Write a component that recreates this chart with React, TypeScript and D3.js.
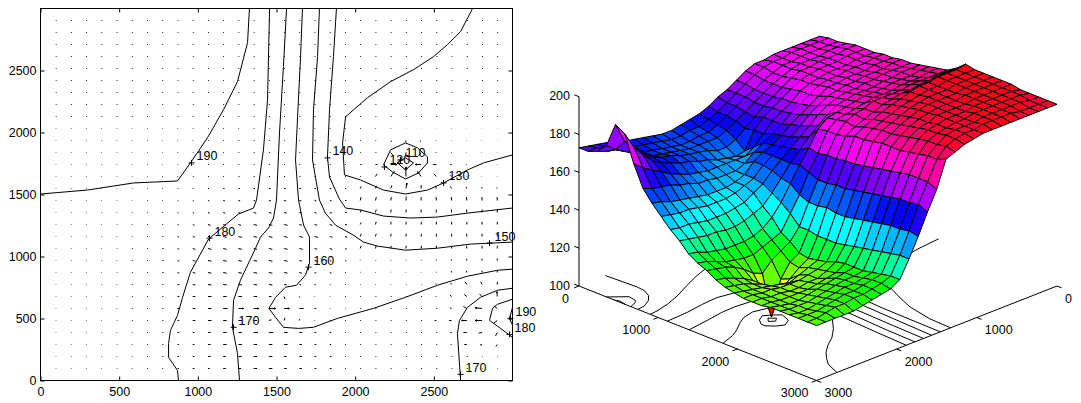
import { useEffect, useRef } from "react";
import * as d3 from "d3";

// surface mesh: 27 nodes a side
const meshCount = 27;
const meshStep = 3000 / 26;
// quiver grid: interior nodes of a 3000/31 grid
const quiverStep = 3000 / 31;

// surface heights, one row per y node (y = 0 first), one value per x node
const zRows = [
  [182,182,182,182,182,182,181,181,179,176,173,171,168,166,165,164,163,163,164,165,166,167,168,170,171,172,173],
  [183,183,183,183,183,182,182,181,179,176,173,170,167,165,163,163,162,162,163,164,165,166,167,169,171,173,173],
  [183,183,183,183,183,182,182,180,178,175,173,170,167,164,162,162,161,161,162,163,164,165,167,170,172,173,175],
  [184,184,184,183,183,183,182,180,178,175,172,169,166,163,161,161,161,161,162,163,164,165,168,170,173,176,180],
  [185,185,184,184,184,183,183,181,178,175,172,168,164,160,158,158,160,161,162,163,165,166,168,170,175,182,193],
  [185,185,185,184,184,184,183,182,179,176,173,170,165,156,155,156,157,159,160,162,163,165,167,170,175,181,190],
  [185,185,185,184,184,184,183,182,180,176,173,170,165,160,157,157,157,157,157,158,159,161,163,166,169,172,176],
  [186,186,185,185,185,184,184,183,180,177,174,170,167,164,161,157,155,155,155,156,156,158,159,161,162,163,165],
  [186,186,186,185,185,185,184,184,181,178,175,172,168,165,163,160,155,153,152,152,152,153,154,155,156,158,159],
  [187,187,186,186,186,185,185,184,183,180,177,173,169,166,163,160,155,153,151,150,150,150,151,152,152,153,154],
  [187,187,187,187,186,186,185,185,184,182,179,175,171,167,163,159,154,151,148,147,146,146,146,147,148,148,149],
  [188,188,188,187,187,186,186,186,185,184,181,177,173,168,163,157,151,146,144,142,141,141,142,142,143,144,145],
  [189,189,188,188,188,187,187,187,186,185,184,183,179,171,164,156,148,142,138,136,135,135,135,136,137,139,140],
  [190,190,189,189,189,188,188,188,187,186,185,184,180,170,162,152,144,136,134,132,130,130,131,132,134,136,137],
  [191,191,191,191,191,190,190,190,190,188,187,185,180,171,160,150,139,133,130,127,122,124,128,131,133,134,135],
  [194,194,194,193,193,192,192,191,190,188,186,184,181,171,160,150,139,129,126,119,101,117,124,127,129,131,132],
  [198,197,197,197,196,196,195,193,192,190,188,186,183,172,161,151,138,128,125,121,117,120,124,126,128,129,130],
  [197,197,197,197,196,196,195,194,193,191,189,187,183,172,161,150,138,129,127,125,123,124,125,126,127,128,129],
  [197,197,197,197,196,196,196,195,194,192,190,188,184,173,162,150,138,130,128,127,126,126,126,127,127,128,128],
  [197,197,197,197,196,196,196,196,195,193,191,188,185,174,163,151,139,132,129,127,127,126,126,127,127,128,128],
  [197,197,197,197,197,196,196,196,195,194,192,189,185,175,164,152,140,133,130,129,128,127,127,127,127,128,128],
  [197,197,197,197,197,196,196,196,196,194,193,190,185,176,165,153,141,133,132,131,130,129,128,127,127,128,129],
  [196,197,197,197,197,197,196,196,196,195,194,191,186,177,166,154,142,133,132,132,131,130,129,128,128,128,129],
  [196,197,197,197,197,197,197,196,196,195,194,192,187,178,167,155,143,134,133,132,132,131,130,129,128,128,129],
  [196,196,197,197,197,197,197,196,196,196,195,192,188,178,167,155,144,135,134,133,132,132,131,130,129,129,129],
  [196,196,196,196,197,197,197,197,196,196,195,193,188,178,168,156,145,136,134,133,132,132,131,131,130,129,129],
  [196,196,196,196,196,196,196,196,196,195,194,192,190,176,166,155,145,136,133,132,131,130,129,129,129,129,129],
];

// quiver components in tens of data units, rows from y node 1 upward, columns from x node 1
const quiverU = [
  [.3,.3,.3,.3,.4,.4,.5,.5,.8,1,1,1.5,1.5,2,2,1.5,1.5,1,1,.5,.5,.5,.5,.5,.5,.5,.5,.5,.3,.3],
  [.3,.3,.3,.3,.4,.4,.5,.6,.8,1,1.5,1.5,2,2,2,1.5,1.5,1,1,.5,.5,.5,.5,.5,.5,.5,.5,.5,.3,.3],
  [.3,.3,.3,.3,.4,.4,.5,.6,.8,1,1.5,2,2,2,2,2,1.5,1,.8,.5,.5,.5,.5,.5,.5,.5,-.5,-1.5,-1.2,-.8],
  [.3,.3,.3,.3,.4,.4,.5,.6,1,1,1.5,2,2,2.5,2.5,2,1.5,1,.8,.5,.5,.5,.5,.5,.5,.5,-.8,-2,-2,-1],
  [.3,.3,.3,.3,.4,.5,.5,.6,1,1.5,2,2,2,2,1.5,.5,.2,.3,.5,.5,.5,.5,.5,.5,.5,-1,-1.5,-3,-4,-2],
  [.3,.3,.3,.3,.4,.5,.5,.6,1,1.5,2,2.5,3,3,4,3,2.5,1,.4,.3,.5,.5,.5,.5,.5,.5,-1,-2,-4,-2],
  [.3,.3,.3,.3,.4,.5,.5,.6,1,1.5,2,2,2,2,1.5,.5,.2,.3,.3,.5,.5,.5,.5,.5,.5,-.5,-1,-1.5,-1.5,-.2],
  [.3,.3,.3,.3,.4,.5,.5,.6,1,1.5,2,2,2,2,2,1.5,1,.8,.5,.5,.3,.3,.3,.3,.3,-.3,-.5,-1,-.8,0],
  [.3,.3,.3,.3,.4,.5,.5,.7,1,1.5,2,2,2,2,2,2,1.5,1,1,.5,.3,.3,.3,.2,.2,0,-.2,-.2,0,0],
  [.3,.3,.3,.3,.4,.5,.5,.7,1,1.5,2,2,2,2,2,2,1.5,1.5,1,.8,.3,.3,.3,.2,.2,0,-.2,-.2,0,0],
  [.3,.3,.3,.3,.4,.5,.5,.7,1,1.5,2,2,2,2,2,2,2,1.5,1.5,1,.5,.4,.3,.2,.2,0,-.1,-.1,0,0],
  [.3,.3,.3,.3,.4,.4,.5,.6,.8,1.2,1.5,2,2,2,2,2,2,2,1.5,1.2,.6,.4,.3,.2,.1,0,0,-.1,0,0],
  [.3,.3,.3,.3,.4,.4,.5,.5,.8,1,1.5,1.5,1.5,2,2,2,1.5,1.5,1.5,1.2,.6,.4,.3,.2,.1,0,0,0,0,0],
  [.3,.3,.3,.3,.3,.4,.4,.5,.6,.8,1,1.2,1.2,1.5,1.5,1.5,1.5,1.2,1.2,1,.6,.4,.3,.2,0,-.1,-.1,-.1,0,0],
  [.3,.3,.3,.3,.3,.3,.4,.4,.5,.6,.8,1,1,1,1.2,1.2,1.2,1,1,.8,.5,.5,.4,.2,0,-.2,-.2,-.2,-.1,-.1],
  [.3,.3,.3,.3,.3,.3,.3,.4,.5,.5,.6,.8,.8,.8,1,1,1,.8,.8,.6,.5,.6,.7,.6,0,-.6,-.7,-.5,-.3,-.2],
  [.3,.3,.3,.3,.3,.3,.3,.4,.4,.5,.5,.5,.6,.6,.6,.6,.6,.5,.5,.5,.5,1,2,0,-2,-1.5,-.6,-.3,-.2,-.2],
  [.3,.3,.3,.3,.3,.3,.3,.3,.4,.4,.5,.5,.5,.5,.5,.5,.5,.5,.5,.5,.8,1.2,3.5,0,-3.5,-2,-.8,-.4,-.2,-.2],
  [.3,.3,.3,.3,.3,.3,.3,.3,.4,.4,.4,.5,.5,.5,.5,.5,.5,.5,.5,.5,.4,.5,1.5,0,-1.5,-.5,-.3,-.2,-.2,-.2],
  [.3,.3,.3,.3,.3,.3,.3,.3,.3,.4,.4,.4,.5,.5,.5,.4,.4,.4,.4,.4,.4,.4,.8,0,-.8,-.3,-.2,-.2,-.2,-.1],
  [.3,.3,.3,.3,.3,.3,.3,.3,.3,.4,.4,.4,.4,.4,.4,.4,.4,.4,.4,.4,.4,.3,.3,.1,-.1,-.1,-.2,-.1,-.1,-.1],
];
const quiverV = [
  [0,0,0,0,0,0,0,0,0,0,0,0,0,0,0,0,0,0,0,0,0,0,0,0,0,0,0,0,0,0],
  [0,0,0,0,0,0,0,0,0,0,0,0,0,0,0,0,0,0,0,0,0,0,0,0,0,0,0,0,0,0],
  [0,0,0,0,0,0,0,0,0,0,0,0,0,0,0,0,0,0,0,0,0,0,0,0,0,0,0,0,-.5,-1.5],
  [0,0,0,0,0,0,0,0,0,0,0,0,0,0,0,0,0,0,0,0,0,0,0,0,0,0,0,0,-.5,-2.5],
  [0,0,0,0,0,0,0,0,0,0,0,0,0,0,.5,2,1,0,0,0,0,0,0,0,0,0,0,0,0,-2],
  [0,0,0,0,0,0,0,0,0,0,0,0,0,0,0,0,0,0,0,0,0,0,0,0,0,0,.5,1.5,.5,2],
  [0,0,0,0,0,0,0,0,0,0,0,0,0,0,0,-2,-.8,0,0,0,0,0,0,0,0,0,1,1.5,2,3.5],
  [0,0,0,0,0,0,0,0,-.3,-.3,-.3,-.3,-.3,-.3,-.3,-.3,-.3,-.3,-.3,0,0,0,0,0,0,.8,1,2,2,2],
  [0,0,0,0,0,0,0,0,-.5,-.5,-.5,-.5,-.5,-.5,-.5,-.5,-.5,-.5,-.5,0,.3,.3,.3,.3,.3,.5,1,1.2,1.5,1.5],
  [0,0,0,0,0,0,0,0,-.5,-.5,-.5,-.5,-.5,-.5,-.5,-.5,-.5,-.5,-.5,-.5,.5,.5,.5,.5,.5,.7,1,1.2,1.5,1.5],
  [0,0,0,0,0,0,0,0,-.6,-.6,-.6,-.6,-.6,-.6,-.6,-.6,-.6,-.6,-.6,-.6,2,2,2,2,2,2,2,2,2,2],
  [0,0,0,0,0,0,0,0,-.6,-.6,-.6,-.6,-.6,-.6,-.6,-.6,-.6,-.6,-.6,-.6,2,2,2,2,2,2,2,2,2,2],
  [0,0,0,0,0,0,0,0,-.6,-.6,-.6,-.6,-.6,-.6,-.6,-.6,-.6,-.6,-.6,-.3,1.5,2,2,2,2,2,2,2,2,2],
  [0,0,0,0,0,0,0,0,-.5,-.5,-.5,-.5,-.5,-.5,-.5,-.5,-.5,-.5,-.5,0,2.2,2.2,2.2,2.2,2.2,2.2,2.2,2.2,2.2,2.2],
  [0,0,0,0,0,0,0,0,-.3,-.3,-.3,-.3,-.3,-.3,-.3,-.3,-.3,-.3,-.3,0,2.5,2.5,2.5,3,2.5,2.5,2.5,2.5,2.5,2.5],
  [0,0,0,0,0,0,0,0,0,0,0,0,0,0,0,0,0,0,0,0,1.5,2,2.2,4,2.5,2,1.5,1.2,1,.8],
  [0,0,0,0,0,0,0,0,0,0,0,0,0,0,0,0,0,0,0,0,0,2,3.5,7,3.5,2,1,.5,0,0],
  [0,0,0,0,0,0,0,0,0,0,0,0,0,0,0,0,0,0,0,0,0,0,0,0,0,0,0,0,0,0],
  [0,0,0,0,0,0,0,0,0,0,0,0,0,0,0,0,0,0,0,0,0,0,-2.5,-3,-2.5,0,0,0,0,0],
  [0,0,0,0,0,0,0,0,0,0,0,0,0,0,0,0,0,0,0,0,0,0,-1,-1.5,-1,0,0,0,0,0],
  [0,0,0,0,0,0,0,0,0,0,0,0,0,0,0,0,0,0,0,0,0,0,0,0,0,0,0,0,0,0],
];
const quiverDotU = 0.5;

// contour lines as [x, y] data pairs
const contour190: number[][] = [[0,1504],[299,1536],[591,1593],[871,1609],[953,1755],[1061,1957],[1163,2183],[1252,2410],[1316,2725],[1328,3000]];
const contour180: number[][] = [[877,0],[871,81],[814,186],[814,299],[826,404],[871,526],[903,671],[953,873],[1068,1140],[1189,1270],[1258,1342],[1354,1391],[1373,1455],[1417,1860],[1443,2264],[1456,3000]];
const contour170: number[][] = [[1265,0],[1252,218],[1220,429],[1227,647],[1271,809],[1367,1067],[1398,1156],[1449,1229],[1481,1310],[1500,1455],[1519,1997],[1544,2531],[1564,3000]];
const contour160: number[][] = [[1665,3000],[1653,2612],[1634,2127],[1621,1779],[1640,1455],[1672,1253],[1710,1156],[1710,946],[1684,849],[1627,768],[1557,752],[1494,671],[1452,582],[1494,509],[1544,429],[1640,420],[1735,429],[1888,501],[2117,582],[2320,671],[2523,768],[2714,841],[2905,889],[3000,898]];
const contour150: number[][] = [[1773,3000],[1761,2612],[1735,2183],[1729,1779],[1773,1455],[1811,1350],[1875,1253],[1989,1172],[2053,1116],[2142,1084],[2320,1051],[2523,1067],[2733,1100],[3000,1116]];
const contour140: number[][] = [[1881,3000],[1862,2612],[1837,2183],[1824,1803],[1837,1641],[1900,1463],[1939,1391],[2034,1375],[2180,1326],[2352,1310],[2523,1318],[2714,1350],[3000,1391]];
const contour130: number[][] = [[2746,3000],[2670,2814],[2587,2709],[2498,2612],[2371,2507],[2225,2410],[2078,2280],[1939,2127],[1920,1916],[1932,1658],[2034,1617],[2180,1536],[2320,1504],[2460,1536],[2562,1593],[2714,1698],[2816,1755],[3000,1819]];
const contour120: number[][] = [[2320,1916],[2396,1876],[2460,1803],[2460,1755],[2403,1674],[2320,1625],[2237,1682],[2180,1738],[2225,1860],[2320,1916]];
const contour110: number[][] = [[2320,1795],[2371,1755],[2320,1698],[2269,1755],[2320,1795]];
const contour170East: number[][] = [[2670,0],[2650,380],[2663,485],[2714,590],[2797,671],[2905,728],[3000,744]];
const contour180East: number[][] = [[3000,348],[2924,420],[2854,485],[2873,582],[2905,615],[3000,655]];
const contour190East: number[][] = [[3000,590],[2981,501],[3000,445]];
const contours = [contour190, contour180, contour170, contour160, contour150, contour140, contour130, contour120, contour110, contour170East, contour180East, contour190East];

// clabel markers
const labelValues = ["190","180","170","160","150","140","130","120","110","170","190","180"];
const labelXs = [960,1074,1227,1703,2854,1824,2562,2186,2288,2670,2987,2981];
const labelYs = [1755,1148,429,914,1108,1795,1593,1722,1779,49,501,372];

const planTicks = [0,500,1000,1500,2000,2500];
const floorTicks = [0,1000,2000,3000];
const heightTicks = [100,120,140,160,180,200];

const font = "'Liberation Sans', Arial, sans-serif";
const fontSize = 12.5;

export default function App() {
  const svgRef = useRef<SVGSVGElement>(null);

  useEffect(() => {
    const svg = d3.select(svgRef.current);
    svg.selectAll("*").remove();

    // ---- left panel: contour + quiver
    const x = d3.scaleLinear().domain([0, 3000]).range([40.5, 512.5]);
    const y = d3.scaleLinear().domain([0, 3000]).range([380.5, 8.5]);
    const left = svg.append("g");

    left.append("rect").attr("x", 40.5).attr("y", 8.5).attr("width", 472).attr("height", 372)
      .attr("fill", "none").attr("stroke", "#000");

    const blank = () => "";
    const plain = d3.format("d");
    const bottom = left.append("g").attr("transform", "translate(0,380.5)")
      .call(d3.axisBottom(x).tickValues(planTicks).tickSizeInner(-4).tickSizeOuter(0).tickPadding(6.6).tickFormat(plain));
    const leftAxis = left.append("g").attr("transform", "translate(40.5,0)")
      .call(d3.axisLeft(y).tickValues(planTicks).tickSizeInner(-4).tickSizeOuter(0).tickPadding(4).tickFormat(plain));
    left.append("g").attr("transform", "translate(0,8.5)")
      .call(d3.axisTop(x).tickValues(planTicks).tickSizeInner(-4).tickSizeOuter(0).tickFormat(blank));
    left.append("g").attr("transform", "translate(512.5,0)")
      .call(d3.axisRight(y).tickValues(planTicks).tickSizeInner(-4).tickSizeOuter(0).tickFormat(blank));
    for (const a of [bottom, leftAxis]) {
      a.selectAll("text").attr("font-family", font).attr("font-size", fontSize).attr("fill", "#000");
    }
    left.selectAll(".domain").remove();

    const planLine = d3.line<number[]>().x((d) => x(d[0])).y((d) => y(d[1]));

    // quiver arrows
    const arrows: string[] = [];
    for (let k = 1; k <= 30; k++) {
      for (let j = 1; j <= 30; j++) {
        const u = quiverU[k - 1] ? quiverU[k - 1][j - 1] : quiverDotU;
        const v = quiverV[k - 1] ? quiverV[k - 1][j - 1] : 0;
        const x0 = x(j * quiverStep);
        const y0 = y(k * quiverStep);
        const x1 = x(j * quiverStep + u * 11);
        const y1 = y(k * quiverStep + v * 11);
        const len = Math.hypot(x1 - x0, y1 - y0);
        let p = `M${x0},${y0}L${x1},${y1}`;
        if (len > 4.5) {
          const ang = Math.atan2(y1 - y0, x1 - x0);
          const hl = len * 0.3;
          for (const s of [-0.4, 0.4]) {
            p += `M${x1},${y1}L${x1 - hl * Math.cos(ang + s)},${y1 - hl * Math.sin(ang + s)}`;
          }
        }
        arrows.push(p);
      }
    }
    left.append("path").attr("d", arrows.join("")).attr("fill", "none").attr("stroke", "#000").attr("stroke-width", 1);

    left.selectAll("path.contour").data(contours).join("path").attr("class", "contour")
      .attr("d", (d) => planLine(d)).attr("fill", "none").attr("stroke", "#000").attr("stroke-width", 1);

    labelValues.forEach((val, i) => {
      const mx = x(labelXs[i]);
      const my = y(labelYs[i]);
      left.append("path").attr("d", `M${mx - 3},${my}H${mx + 3}M${mx},${my - 3}V${my + 3}`)
        .attr("stroke", "#000").attr("fill", "none");
      left.append("text").attr("x", mx + 5).attr("y", my - 2.5).text(val)
        .attr("font-family", font).attr("font-size", fontSize).attr("fill", "#000");
    });

    // ---- right panel: surface over its contour floor, fixed oblique view
    const floorX = d3.scaleLinear().domain([0, 3000]).range([0, -240.5]);
    const floorXv = d3.scaleLinear().domain([0, 3000]).range([0, 94.5]);
    const floorY = d3.scaleLinear().domain([0, 3000]).range([0, 237.5]);
    const floorYv = d3.scaleLinear().domain([0, 3000]).range([0, 94.5]);
    const lift = d3.scaleLinear().domain([100, 200]).range([0, 189.3]);
    const px = (a: number, b: number) => 819.5 + floorX(a) + floorY(b);
    const py = (a: number, b: number, c: number) => 191.5 + floorXv(a) + floorYv(b) - lift(c);

    const right = svg.append("g");
    const floorLine = d3.line<number[]>().x((d) => px(d[0], d[1])).y((d) => py(d[0], d[1], 100));
    right.selectAll("path.floor").data(contours).join("path").attr("class", "floor")
      .attr("d", (d) => floorLine(d)).attr("fill", "none").attr("stroke", "#000").attr("stroke-width", 1);

    const axisPaths: string[] = [];
    axisPaths.push(`M${px(3000, 0)},${py(3000, 0, 100)}L${px(3000, 3000)},${py(3000, 3000, 100)}L${px(0, 3000)},${py(0, 3000, 100)}`);
    axisPaths.push(`M${px(3000, 0)},${py(3000, 0, 100)}L${px(3000, 0)},${py(3000, 0, 200)}`);
    for (const t of floorTicks) {
      axisPaths.push(`M${px(3000, t)},${py(3000, t, 100)}L${px(3060, t)},${py(3060, t, 100)}`);
      axisPaths.push(`M${px(t, 3000)},${py(t, 3000, 100)}L${px(t, 3060)},${py(t, 3060, 100)}`);
    }
    for (const t of heightTicks) {
      axisPaths.push(`M${px(3000, 0)},${py(3000, 0, t)}L${px(3000, -60)},${py(3000, -60, t)}`);
    }
    right.append("path").attr("d", axisPaths.join("")).attr("fill", "none").attr("stroke", "#000").attr("stroke-width", 1);

    const label = (lx: number, ly: number, s: string, anchor: string) => {
      right.append("text").attr("x", lx).attr("y", ly).attr("text-anchor", anchor).text(s)
        .attr("font-family", font).attr("font-size", fontSize).attr("fill", "#000");
    };
    for (const t of floorTicks) {
      label(px(3000, t) - (t === 0 ? 10 : 8), py(3000, t, 100) + 16.5, String(t), "end");
      label(px(t, 3000) + 8, py(t, 3000, 100) + 16.5, String(t), "start");
    }
    for (const t of heightTicks) {
      label(570, py(3000, 0, t) + 3.5, String(t), "end");
    }

    // hsv colormap, 64 steps across the data range
    const zAll = zRows.flat();
    const zToUnit = d3.scaleLinear().domain(d3.extent(zAll) as [number, number]).range([0, 1]);
    const hsv = (z: number) => d3.hsl(Math.min(Math.floor(zToUnit(z) * 64), 63) / 64 * 360, 1, 0.5).formatHex();

    const cells: { d: string; c: string }[] = [];
    for (let k = 0; k < meshCount - 1; k++) {
      for (let j = 0; j < meshCount - 1; j++) {
        const corners = [[j, k], [j + 1, k], [j + 1, k + 1], [j, k + 1]];
        const pts = corners.map(([a, b]) => {
          const dx = a * meshStep;
          const dy = b * meshStep;
          return `${px(dx, dy)},${py(dx, dy, zRows[b][a])}`;
        });
        cells.push({ d: `M${pts.join("L")}Z`, c: hsv(zRows[k][j]) });
      }
    }
    right.selectAll("path.cell").data(cells).join("path").attr("class", "cell")
      .attr("d", (d) => d.d).attr("fill", (d) => d.c).attr("stroke", "#000").attr("stroke-width", 1)
      .attr("stroke-linejoin", "round");
  }, []);

  return <svg ref={svgRef} width={1081} height={403} style={{ position: "absolute", left: 0, top: 0, background: "#fff" }} />;
}
